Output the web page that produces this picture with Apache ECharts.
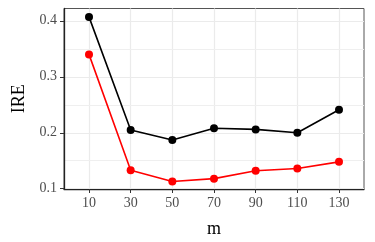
<!DOCTYPE html>
<html>
<head>
<meta charset="utf-8">
<script src="https://cdn.jsdelivr.net/npm/echarts@6/dist/echarts.min.js"></script>
<style>html,body{margin:0;padding:0;background:#fff}#c{width:375px;height:242px}</style>
</head>
<body>
<div id="c"></div>
<script>
var categories = ['10', '30', '50', '70', '90', '110', '130'];
var blackValues = [0.407, 0.205, 0.187, 0.208, 0.206, 0.200, 0.241];
var redValues = [0.340, 0.133, 0.113, 0.118, 0.132, 0.136, 0.148];
var yTicks = [0.1, 0.2, 0.3, 0.4];
var yMinorTicks = [0.15, 0.25, 0.35];
var xTitle = 'm';
var yTitle = 'IRE';

var idx = categories.map(function (c, i) { return i; });
function pairs(vals) { return vals.map(function (v, i) { return [idx[i], v]; }); }

var FONT = '"Liberation Serif", "DejaVu Serif", serif';
var chart = echarts.init(document.getElementById('c'), null, { renderer: 'canvas' });
chart.setOption({
  animation: false,
  backgroundColor: '#fff',
  grid: { left: 64, right: 11, top: 8.5, bottom: 53, outerBoundsMode: 'none', containLabel: false,
    show: true, borderColor: '#555', borderWidth: 1, backgroundColor: 'transparent' },
  xAxis: {
    type: 'value', min: -0.6, max: 6.6,
    name: xTitle, nameLocation: 'middle', nameGap: 31,
    nameTextStyle: { fontFamily: FONT, fontSize: 18, color: '#000' },
    axisLine: { show: true, onZero: false, lineStyle: { color: '#222', width: 1.3 } },
    axisTick: { show: true, length: 4, customValues: idx, lineStyle: { color: '#333', width: 1 } },
    axisLabel: { customValues: idx, margin: 7, fontFamily: FONT, fontSize: 14, color: '#4D4D4D',
      formatter: function (v) { return categories[Math.round(v)]; } },
    splitLine: { show: true, lineStyle: { color: '#EBEBEB', width: 1.2 } }
  },
  yAxis: [{
    type: 'value', min: 0.0995, max: 0.422,
    name: yTitle, nameLocation: 'middle', nameGap: 36, nameRotate: 90,
    nameTextStyle: { fontFamily: FONT, fontSize: 18, color: '#000' },
    axisLine: { show: true, onZero: false, lineStyle: { color: '#222', width: 1.3 } },
    axisTick: { show: true, length: 4, customValues: yTicks, lineStyle: { color: '#333', width: 1 } },
    axisLabel: { customValues: yTicks, margin: 7, fontFamily: FONT, fontSize: 14, color: '#4D4D4D',
      formatter: function (v) { return v.toFixed(1); } },
    splitLine: { show: true, lineStyle: { color: '#EBEBEB', width: 1.2 } },
    z: 2
  }, {
    type: 'value', min: 0.0995, max: 0.422, position: 'left',
    axisLine: { show: false }, axisTick: { show: false, customValues: yMinorTicks },
    axisLabel: { show: false, customValues: yMinorTicks },
    splitLine: { show: true, lineStyle: { color: '#EFEFEF', width: 1 } },
    z: 1
  }],
  series: [{
    type: 'line', data: pairs(blackValues), yAxisIndex: 0,
    symbol: 'circle', symbolSize: 8,
    lineStyle: { color: '#000', width: 1.6 }, itemStyle: { color: '#000' }, z: 3
  }, {
    type: 'line', data: pairs(redValues), yAxisIndex: 0,
    symbol: 'circle', symbolSize: 8,
    lineStyle: { color: '#FF0000', width: 1.6 }, itemStyle: { color: '#FF0000' }, z: 4
  }]
});
</script>
</body>
</html>
